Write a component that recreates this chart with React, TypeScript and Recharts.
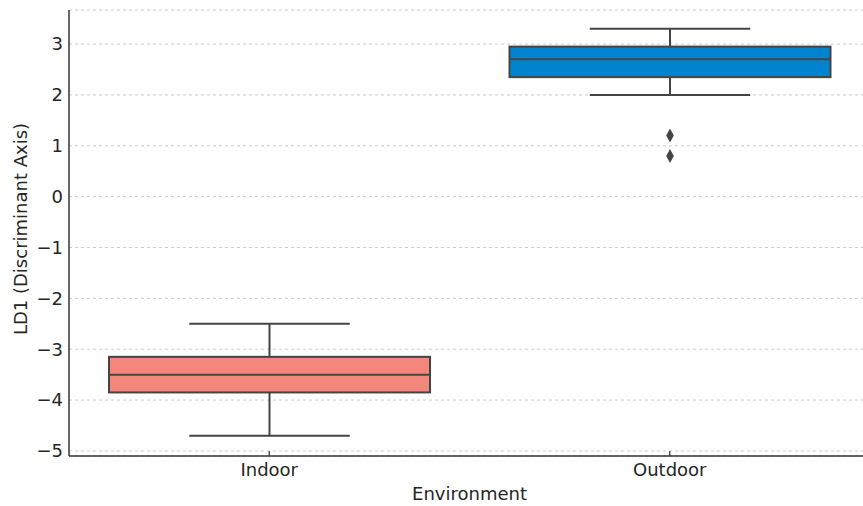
import { ComposedChart, Bar, XAxis, YAxis, CartesianGrid, Label } from 'recharts';

const environments = ['Indoor', 'Outdoor'];
const whiskerLow = [-4.7, 2.0];
const lowerQuartile = [-3.85, 2.35];
const medians = [-3.5, 2.7];
const upperQuartile = [-3.15, 2.95];
const whiskerHigh = [-2.5, 3.3];
const outliers = [[], [1.2, 0.8]];
const boxColors = ['#f4877c', '#0084cf'];
const yTicks = [-5, -4, -3, -2, -1, 0, 1, 2, 3];

const FONT = '"DejaVu Sans", sans-serif';
const EDGE = '#444444';
const TEXT = '#262626';

const chartData = environments.map((env, i) => ({
  env,
  box: [lowerQuartile[i], upperQuartile[i]],
  low: whiskerLow[i],
  median: medians[i],
  q1: lowerQuartile[i],
  q3: upperQuartile[i],
  high: whiskerHigh[i],
  outliers: outliers[i],
  color: boxColors[i],
}));

const fmt = (v: number) => (v < 0 ? '\u2212' + Math.abs(v) : String(v));

function BoxShape(props: any) {
  const { x, y, width, height, payload } = props;
  const top = Math.min(y, y + height);
  const h = Math.abs(height);
  const perUnit = h / (payload.q3 - payload.q1);
  const toY = (v: number) => top + (payload.q3 - v) * perUnit;
  const cx = x + width / 2;
  const capHalf = width / 4;
  return (
    <g>
      <line x1={cx} x2={cx} y1={toY(payload.high)} y2={toY(payload.q3)} stroke={EDGE} strokeWidth={2} />
      <line x1={cx} x2={cx} y1={toY(payload.q1)} y2={toY(payload.low)} stroke={EDGE} strokeWidth={2} />
      <line x1={cx - capHalf} x2={cx + capHalf} y1={toY(payload.high)} y2={toY(payload.high)} stroke={EDGE} strokeWidth={2} />
      <line x1={cx - capHalf} x2={cx + capHalf} y1={toY(payload.low)} y2={toY(payload.low)} stroke={EDGE} strokeWidth={2} />
      <rect x={x} y={top} width={width} height={h} fill={payload.color} stroke={EDGE} strokeWidth={2} />
      <line x1={x} x2={x + width} y1={toY(payload.median)} y2={toY(payload.median)} stroke={EDGE} strokeWidth={2} />
      {payload.outliers.map((v: number, i: number) => {
        const oy = toY(v);
        return (
          <polygon
            key={i}
            points={`${cx},${oy - 7} ${cx + 3.8},${oy} ${cx},${oy + 7} ${cx - 3.8},${oy}`}
            fill={EDGE}
          />
        );
      })}
    </g>
  );
}

function XTick(props: any) {
  const { x, y, payload } = props;
  return (
    <g>
      <line x1={x} x2={x} y1={y - 5} y2={y} stroke="#333" strokeWidth={1.2} />
      <text x={x} y={y + 20} textAnchor="middle" fill={TEXT} fontSize={18} fontFamily={FONT}>
        {payload.value}
      </text>
    </g>
  );
}

export default function App() {
  return (
    <div style={{ position: 'fixed', left: 0, top: 0, width: 863, height: 506, overflow: 'hidden', background: '#fff' }}>
      <ComposedChart
        width={870}
        height={506}
        data={chartData}
        margin={{ top: 10, right: 0, bottom: 0, left: 0 }}
      >
        <CartesianGrid vertical={false} strokeDasharray="3 3" stroke="#cccccc" />
        <XAxis
          dataKey="env"
          height={50}
          tickSize={0}
          tickMargin={0}
          tick={<XTick />}
          axisLine={{ stroke: '#333', strokeWidth: 1.5 }}
          tickLine={false}
        >
          <Label value="Environment" position="center" dy={13} fill={TEXT} fontSize={18} fontFamily={FONT} />
        </XAxis>
        <YAxis
          width={69}
          domain={[-5.1, 3.67]}
          ticks={yTicks}
          tickFormatter={fmt}
          tickSize={0}
          tickMargin={6}
          tickLine={false}
          axisLine={{ stroke: '#333', strokeWidth: 1.5 }}
          tick={{ fill: TEXT, fontSize: 18, fontFamily: FONT }}
        >
          <Label value="LD1 (Discriminant Axis)" angle={-90} position="center" dx={-14} dy={-4} fill={TEXT} fontSize={18} fontFamily={FONT} />
        </YAxis>
        <Bar dataKey="box" barSize={321} shape={<BoxShape />} isAnimationActive={false} />
      </ComposedChart>
    </div>
  );
}
